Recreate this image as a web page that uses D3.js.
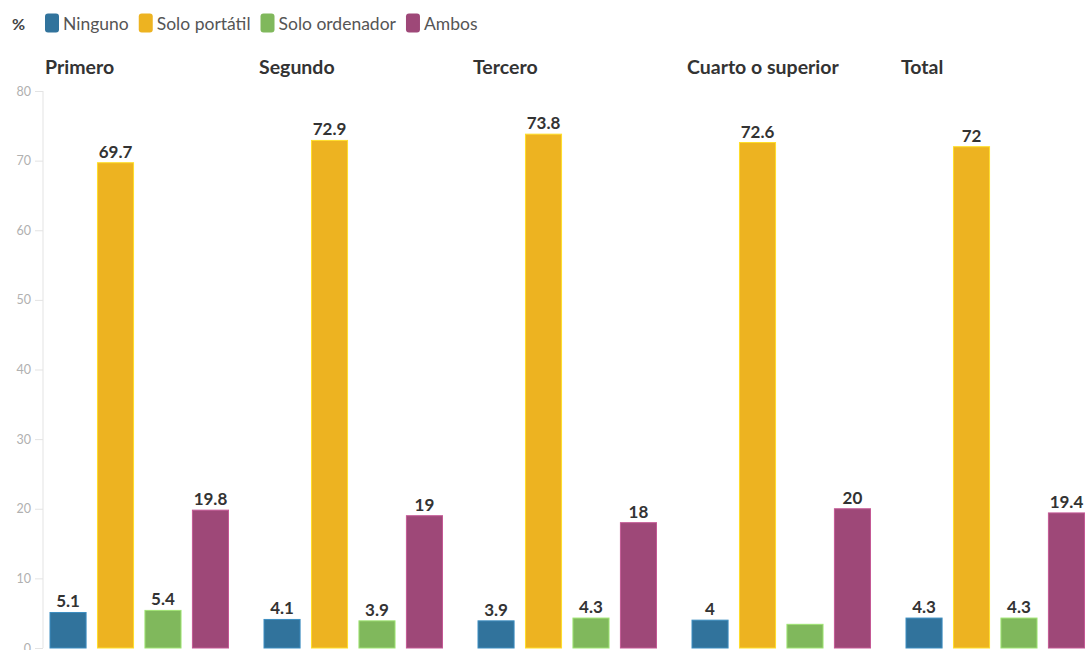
<!DOCTYPE html>
<html>
<head>
<meta charset="utf-8">
<script src="https://cdn.jsdelivr.net/npm/d3@7"></script>
<style>
  html, body { margin: 0; padding: 0; background: #fff; }
  svg { display: block; font-family: "Source Sans Pro", Lato, "Open Sans", sans-serif; }
</style>
</head>
<body>
<svg id="chart" width="1087" height="650"></svg>
<script>
// Course groups (panels) and device series
const groups = ["Primero", "Segundo", "Tercero", "Cuarto o superior", "Total"];
const series = ["Ninguno", "Solo portátil", "Solo ordenador", "Ambos"];
const colors = ["#31739c", "#edb321", "#80b85c", "#9e4878"];

// Percentages per series, one value per group
const ninguno       = [5.1, 4.1, 3.9, 4, 4.3];
const soloPortatil  = [69.7, 72.9, 73.8, 72.6, 72];
const soloOrdenador = [5.4, 3.9, 4.3, 3.4, 4.3];
const ambos         = [19.8, 19, 18, 20, 19.4];
// Which values carry a printed label
const showLabel = [
  [true, true, true, true, true],
  [true, true, true, true, true],
  [true, true, true, false, true],
  [true, true, true, true, true]
];

const yTicks = [0, 10, 20, 30, 40, 50, 60, 70, 80];
const valuesBySeries = [ninguno, soloPortatil, soloOrdenador, ambos];

const svg = d3.select("#chart");

const y = d3.scaleLinear().domain([0, 80]).range([648, 91]);
const x0 = d3.scaleBand().domain(groups).range([44, 44 + 214 * groups.length]);
const x1 = d3.scaleBand().domain(series).range([6, 184.5]).paddingInner(0.24);

// Y axis
const yAxis = d3.axisLeft(y).tickValues(yTicks).tickSize(8).tickPadding(4);
const ga = svg.append("g").attr("transform", "translate(43,0)").call(yAxis);
ga.select(".domain").attr("stroke", "#e3e3e3").attr("d", `M0,${y(80)}V${y(0)}`);
ga.selectAll(".tick line").attr("stroke", "#e3e3e3");
ga.selectAll(".tick text").attr("fill", "#b0b0b0").style("font-size", "12.5px")
  .style("font-family", "Lato, 'Open Sans', sans-serif");

// Legend
const legend = svg.append("g");
legend.append("text").attr("x", 12).attr("y", 30).text("%")
  .attr("fill", "#444").style("font-weight", "700").style("font-size", "16px");
let lx = 45;
series.forEach((s, i) => {
  legend.append("rect").attr("x", lx).attr("y", 13.5).attr("width", 14).attr("height", 19)
    .attr("rx", 3).attr("fill", colors[i]);
  const t = legend.append("text").attr("x", lx + 18).attr("y", 30).text(s)
    .attr("fill", "#555").style("font-size", "17.5px");
  lx += 18 + t.node().getComputedTextLength() + 10;
});

// Panels
groups.forEach((g, gi) => {
  const panel = svg.append("g").attr("transform", `translate(${x0(g)},0)`);
  panel.append("text").attr("x", 1).attr("y", 74).text(g)
    .attr("fill", "#333").style("font-weight", "700").style("font-size", "19.5px");
  series.forEach((s, si) => {
    const v = valuesBySeries[si][gi];
    panel.append("rect")
      .attr("x", x1(s)).attr("width", x1.bandwidth())
      .attr("y", y(v)).attr("height", y(0) - y(v))
      .attr("fill", colors[si])
      .attr("stroke", d3.color(colors[si]).brighter(0.6)).attr("stroke-width", 1);
    if (showLabel[si][gi]) {
      panel.append("text")
        .attr("x", x1(s) + x1.bandwidth() / 2).attr("y", y(v) - 5)
        .attr("text-anchor", "middle").text(v)
        .attr("fill", "#333").style("font-weight", "700").style("font-size", "17px");
    }
  });
});
</script>
</body>
</html>
